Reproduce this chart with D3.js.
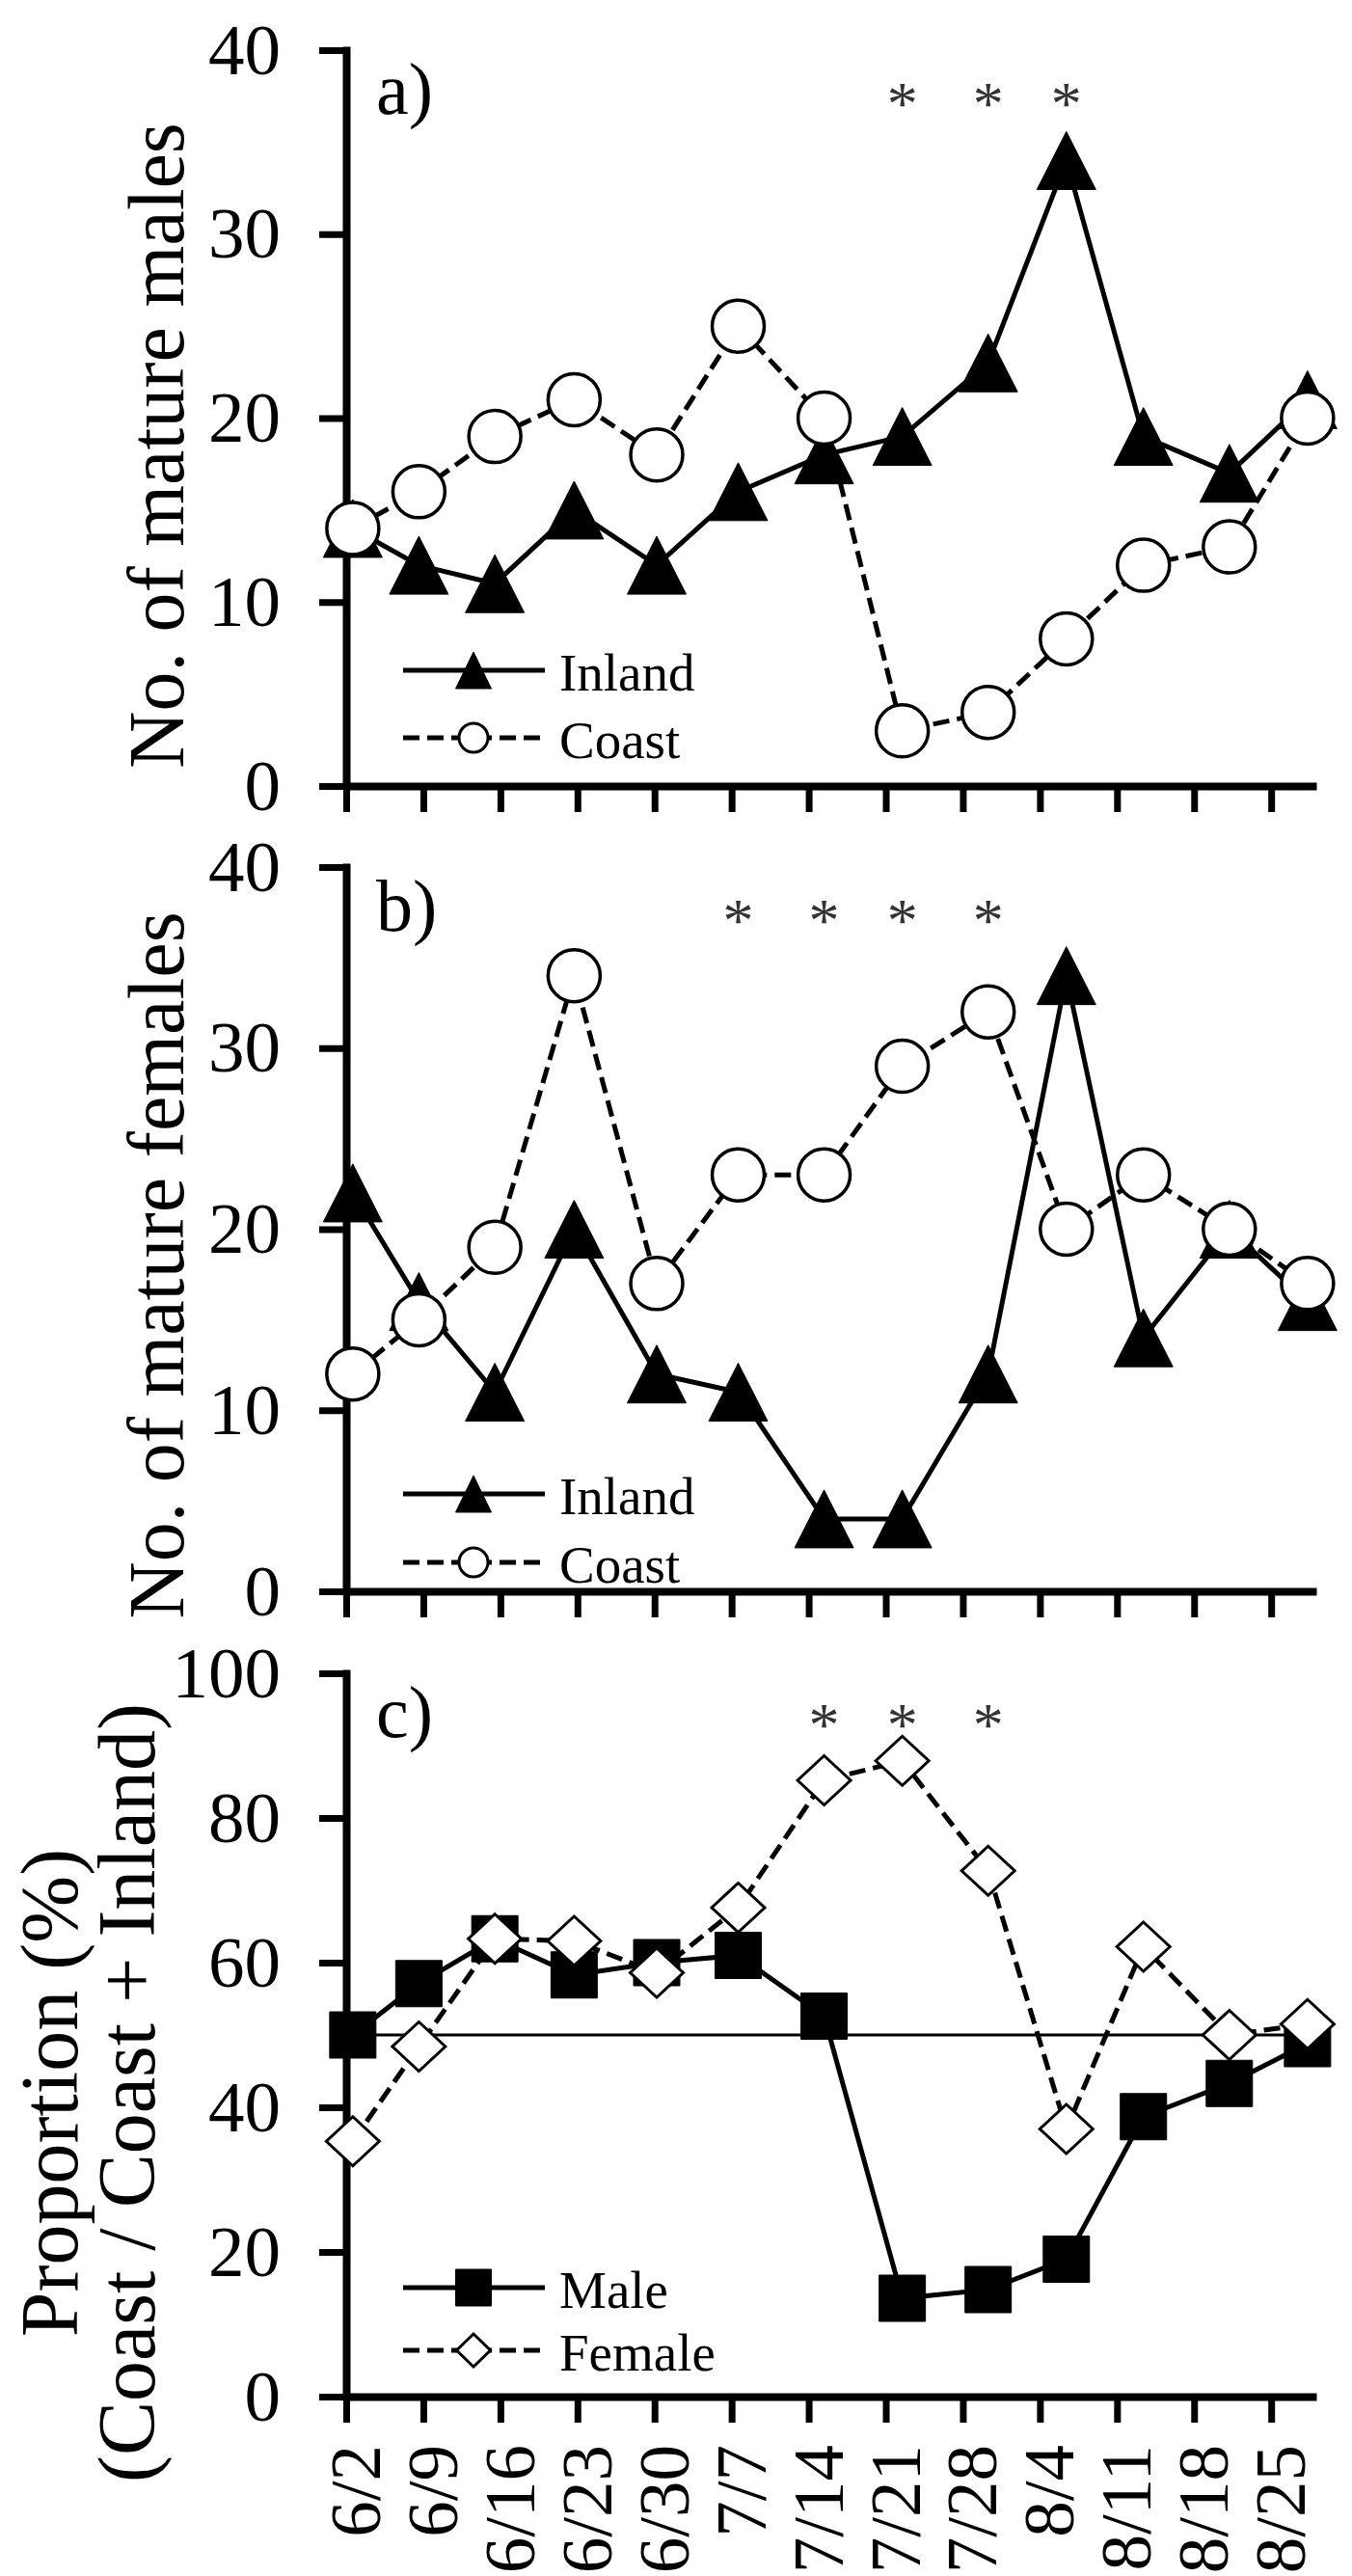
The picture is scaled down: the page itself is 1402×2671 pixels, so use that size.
<!DOCTYPE html>
<html><head><meta charset="utf-8">
<script src="https://cdn.jsdelivr.net/npm/d3@7"></script>
<style>
body{margin:0;background:#fff}
svg{display:block}
text{font-family:"Liberation Serif","Times New Roman",serif;fill:#000}
</style>
</head><body>
<svg id="chart" width="1402" height="2671"></svg>
<script>
// ---------- data ----------
const weekLabels = ["6/2","6/9","6/16","6/23","6/30","7/7","7/14","7/21","7/28","8/4","8/11","8/18","8/25"];
// sampling day, counted in days after 6/2 (read from point positions)
const sampleDay = [0.6, 6.6, 13.5, 20.7, 28.2, 35.6, 43.4, 50.5, 58.3, 65.4, 72.4, 80.2, 87.3];

const maleInland   = [14, 12, 11, 15, 12, 16, 18, 19, 23, 34, 19, 17, 21];
const maleCoast    = [14, 16, 19, 21, 18, 25, 20,  3,  4,  8, 12, 13, 20];
const femaleInland = [22, 16, 11, 20, 12, 11,  4,  4, 12, 34, 14, 20, 16];
const femaleCoast  = [12, 15, 19, 34, 17, 23, 23, 29, 32, 20, 23, 20, 17];
const propMale     = [50, 57.1, 63.3, 58.3, 60, 61, 52.6, 13.6, 14.8, 19, 38.7, 43.3, 48.8];
const propFemale   = [35.3, 48.4, 63.3, 63, 58.6, 67.6, 85.2, 87.9, 72.7, 37, 62.2, 50, 51.5];

const sigA = ["7/21","7/28","8/4"];
const sigB = ["7/7","7/14","7/21","7/28"];
const sigC = ["7/14","7/21","7/28"];

const countTicks = [0, 10, 20, 30, 40];
const propTicks  = [0, 20, 40, 60, 80, 100];
const refLine    = 50;

// ---------- layout ----------
const svg = d3.select("#chart");
const X0 = 359, X1 = 1365;
const x = d3.scaleLinear().domain([0, 88.1]).range([X0, X1]);
const tickDays = weekLabels.map((d, i) => i * 7);

const panels = [
  {top: 52,  bottom: 815,  max: 40,  ticks: countTicks, letter: "a)",
   title: ["No. of mature males"], titleX: [190], titleY: 462, titleSize: 82,
   series: [
     {vals: maleInland, mark: "tri", dash: null, name: "Inland"},
     {vals: maleCoast,  mark: "circ", dash: "17,8", name: "Coast"}],
   legendY: [695, 765], sig: sigA, sigY: 97},
  {top: 899, bottom: 1650, max: 40,  ticks: countTicks, letter: "b)",
   title: ["No. of mature females"], titleX: [190], titleY: 1312, titleSize: 82,
   series: [
     {vals: femaleInland, mark: "tri", dash: null, name: "Inland"},
     {vals: femaleCoast,  mark: "circ", dash: "17,8", name: "Coast"}],
   legendY: [1549, 1620], sig: sigB, sigY: 944},
  {top: 1735, bottom: 2485, max: 100, ticks: propTicks, letter: "c)",
   title: ["Proportion (%)", "(Coast / Coast + Inland)"], titleX: [80, 160], titleY: 2170, titleSize: 84,
   series: [
     {vals: propMale,   mark: "sq",  dash: null, name: "Male"},
     {vals: propFemale, mark: "dia", dash: "17,8", name: "Female"}],
   legendY: [2372, 2437], sig: sigC, sigY: 1778, ref: true}
];

function markPath(type, big) {
  if (type === "tri")  return big ? "M0,-30L30.5,30L-30.5,30Z" : "M0,-19L18.5,19L-18.5,19Z";
  if (type === "sq")   return big ? "M-24,-24H24V24H-24Z" : "M-18.5,-19H18.5V19H-18.5Z";
  if (type === "dia")  return big ? "M0,-25.5L27.5,0L0,25.5L-27.5,0Z" : "M0,-17L17.5,0L0,17L-17.5,0Z";
  return null;
}

function drawMarker(g, type, cx, cy, big) {
  if (type === "circ") {
    g.append("circle").attr("cx", cx).attr("cy", cy).attr("r", big ? 27 : 15)
      .attr("fill", "#fff").attr("stroke", "#000").attr("stroke-width", big ? 3.5 : 3);
  } else {
    const filled = (type === "tri" || type === "sq");
    g.append("path").attr("d", markPath(type, big))
      .attr("transform", `translate(${cx},${cy})`)
      .attr("fill", filled ? "#000" : "#fff")
      .attr("stroke", "#000").attr("stroke-width", filled ? 1 : 3)
      .attr("stroke-linejoin", "miter");
  }
}

panels.forEach(p => {
  const g = svg.append("g");
  const y = d3.scaleLinear().domain([0, p.max]).range([p.bottom, p.top]);

  // reference line
  if (p.ref) {
    g.append("line").attr("x1", X0).attr("x2", X1)
      .attr("y1", y(refLine)).attr("y2", y(refLine))
      .attr("stroke", "#000").attr("stroke-width", 3);
  }

  // x axis
  const xa = g.append("g").attr("transform", `translate(0,${p.bottom})`)
    .call(d3.axisBottom(x).tickValues(tickDays).tickSize(27).tickSizeOuter(0).tickFormat(""));
  xa.select(".domain").attr("stroke-width", 8).attr("stroke", "#000");
  xa.selectAll(".tick line").attr("stroke-width", 7).attr("stroke", "#000");

  // y axis
  const ya = g.append("g").attr("transform", `translate(${X0},0)`)
    .call(d3.axisLeft(y).tickValues(p.ticks).tickSize(28).tickSizeOuter(0).tickPadding(40));
  ya.select(".domain").attr("stroke-width", 8).attr("stroke", "#000").attr("stroke-linecap", "square");
  ya.selectAll(".tick line").attr("stroke-width", 7).attr("stroke", "#000");
  ya.selectAll(".tick text").attr("font-size", 75).attr("font-family", "Liberation Serif").attr("fill", "#000");

  // panel letter
  g.append("text").attr("x", 390).attr("y", p.top + 66).attr("font-size", 76).text(p.letter);

  // y title
  p.title.forEach((t, i) => {
    g.append("text").attr("transform", `translate(${p.titleX[i]},${p.titleY}) rotate(-90)`)
      .attr("text-anchor", "middle").attr("font-size", p.titleSize).text(t);
  });

  // series
  p.series.forEach(s => {
    const line = d3.line().x((d, i) => x(sampleDay[i])).y(d => y(d));
    g.append("path").datum(s.vals).attr("d", line)
      .attr("fill", "none").attr("stroke", "#000").attr("stroke-width", 5)
      .attr("stroke-dasharray", s.dash).attr("stroke-linejoin", "miter");
    s.vals.forEach((v, i) => drawMarker(g, s.mark, x(sampleDay[i]), y(v), true));
  });

  // legend
  p.series.forEach((s, k) => {
    const ly = p.legendY[k];
    g.append("line").attr("x1", 418).attr("x2", 565).attr("y1", ly).attr("y2", ly)
      .attr("stroke", "#000").attr("stroke-width", 5).attr("stroke-dasharray", s.dash);
    drawMarker(g, s.mark, 491, ly, false);
    g.append("text").attr("x", 580).attr("y", ly + 21).attr("font-size", 55).text(s.name);
  });

  // significance asterisks
  g.selectAll("text.sig").data(p.sig).enter().append("text").attr("class", "sig")
    .attr("x", d => x(sampleDay[weekLabels.indexOf(d)]))
    .attr("y", p.sigY + 32).attr("text-anchor", "middle")
    .attr("font-size", 64).style("fill", "#333").text("*");
});

// x tick labels for bottom panel
svg.append("g").selectAll("text").data(weekLabels).enter().append("text")
  .attr("transform", (d, i) => `translate(${x(tickDays[i]) + 35},2535) rotate(-90)`)
  .attr("text-anchor", "end").attr("font-size", 75).text(d => d);
</script>
</body></html>
